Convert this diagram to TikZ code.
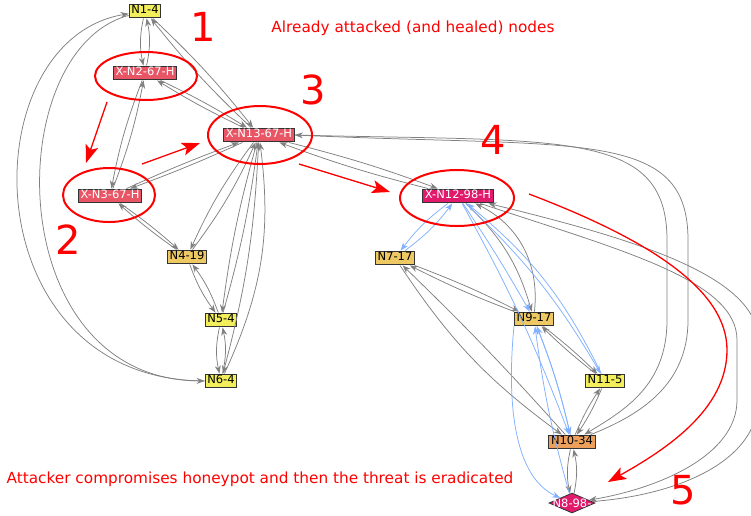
\documentclass[tikz,border=0pt]{standalone}
\usepackage{fontspec}
\setmainfont{DejaVu Sans}
\usepackage{tikz}
\usepackage{xcolor}
\usetikzlibrary{arrows.meta}
\usetikzlibrary{shapes.geometric}

\definecolor{edgegray}{RGB}{128,128,128}
\definecolor{edgeblue}{RGB}{128,176,255}
\definecolor{fillyellow}{RGB}{242,238,92}
\definecolor{fillgold}{RGB}{238,200,98}
\definecolor{fillorange}{RGB}{236,160,92}
\definecolor{fillhealed}{RGB}{232,86,102}
\definecolor{fillpot}{RGB}{226,26,108}
\definecolor{markred}{RGB}{255,0,0}

\tikzset{
  host/.style={rectangle,draw=black!80,line width=1pt,inner xsep=2.2pt,inner ysep=1.6pt,
    text height=8.3pt,text depth=2.4pt,font=\fontsize{11.5}{12}\selectfont},
  yhost/.style={host,fill=fillyellow},
  ghost/.style={host,fill=fillgold},
  ohost/.style={host,fill=fillorange},
  hhost/.style={host,fill=fillhealed,text=white},
  phost/.style={host,fill=fillpot,text=white},
  gedge/.style={draw=edgegray,line width=0.75pt,-{Stealth[length=8pt,width=6pt]}},
  bedge/.style={draw=edgeblue,line width=0.75pt,-{Stealth[length=8pt,width=6pt]}},
  ring/.style={draw=markred,line width=2pt},
  redarrow/.style={draw=markred,line width=1.3pt,-{Stealth[length=18pt,width=13pt,inset=4pt]}},
  bignum/.style={text=markred,font=\fontsize{40}{42}\selectfont},
  note/.style={text=markred,font=\fontsize{15.3}{17}\selectfont}
}

\begin{document}
\begin{tikzpicture}[x=1pt,y=-1pt]
            \useasboundingbox (0,0) rectangle (751,515);

            % hosts
            \node[yhost] (n1) at (145,11){N1-4};
            \node[hhost] (n2) at (145,73){X-N2-67-H};
            \node[hhost] (n13) at (259,135){X-N13-67-H};
            \node[hhost] (n3) at (110,196){X-N3-67-H};
            \node[ghost] (n4) at (187,257){N4-19};
            \node[yhost] (n5) at (221,320){N5-4};
            \node[yhost] (n6) at (221,381){N6-4};
            \node[phost] (n12) at (458,196){X-N12-98-H};
            \node[ghost] (n7) at (395,258){N7-17};
            \node[ghost] (n9) at (534,319){N9-17};
            \node[yhost] (n11) at (605,381){N11-5};
            \node[ohost] (n10) at (572,442){N10-34};
            \node[diamond,draw=black!80,line width=0.8pt,fill=fillpot,inner sep=0pt,
              minimum width=46pt,minimum height=20pt,
              label={[text=white,font=\fontsize{11.5}{12}\selectfont]center:N8-98-}] (n8) at (572,503){};

            % left cluster
            \draw[gedge] (n1) to[bend right=12] (n2);
            \draw[gedge] (n2) to[bend right=12] (n1);
            \draw[gedge] (n1) to[bend left=4] (n13);
            \draw[gedge] (n13) to[bend left=4] (n1);
            \draw[gedge] (n2) to[bend left=3] (n13);
            \draw[gedge] (n13) to[bend left=3] (n2);
            \draw[gedge] (n2) to[bend right=5] (n3);
            \draw[gedge] (n3) to[bend right=5] (n2);
            \draw[gedge] (n13) to[bend left=2] (n3);
            \draw[gedge] (n3) to[bend left=2] (n13);
            \draw[gedge] (n3) to[bend left=3] (n4);
            \draw[gedge] (n4) to[bend left=3] (n3);
            \draw[gedge] (n13) to[bend right=6] (n4);
            \draw[gedge] (n4) to[bend right=6] (n13);
            \draw[gedge] (n13) to[bend right=4] (n5);
            \draw[gedge] (n5) to[bend right=4] (n13);
            \draw[gedge] (n13) to[bend left=6] (n6);
            \draw[gedge] (n6) to[bend right=16] (n13);
            \draw[gedge] (n4) to[bend right=8] (n5);
            \draw[gedge] (n5) to[bend right=8] (n4);
            \draw[gedge] (n5) to[bend right=12] (n6);
            \draw[gedge] (n6) to[bend right=12] (n5);
            \draw[gedge] (n6) .. controls (-30,380) and (-30,40) .. (n1);
            \draw[gedge] (n1) .. controls (0,50) and (0,380) .. (n6);

            % right cluster
            \draw[gedge] (n13) to[bend left=3] (n12);
            \draw[gedge] (n12) to[bend left=3] (n13);
            \draw[gedge] (n13.east) .. controls (560,142) and (667,128) .. (667,240)
              -- (667,320) .. controls (667,385) and (625,410) .. (n10);
            \draw[gedge] (n10) .. controls (640,415) and (688,385) .. (688,320)
              -- (688,240) .. controls (688,128) and (580,148) .. (n13.east);
            \draw[gedge] (n12) .. controls (620,250) and (737,280) .. (737,340)
              -- (737,400) .. controls (737,455) and (660,488) .. (n8);
            \draw[gedge] (n8) .. controls (680,495) and (758,460) .. (758,400)
              -- (758,340) .. controls (758,275) and (630,238) .. (n12);
            \draw[gedge] (n12) to[bend left=15] (n9);
            \draw[gedge] (n9) to[bend right=35] (n12);
            \draw[gedge] (n7) to[bend left=3] (n9);
            \draw[gedge] (n9) to[bend left=3] (n7);
            \draw[gedge] (n7) to[bend right=10] (n10);
            \draw[gedge] (n10) to[bend right=2] (n7);
            \draw[gedge] (n9) to[bend left=3] (n11);
            \draw[gedge] (n11) to[bend left=3] (n9);
            \draw[gedge] (n11) to[bend left=5] (n10);
            \draw[gedge] (n10) to[bend left=5] (n11);
            \draw[gedge] (n10) to[bend right=12] (n8);
            \draw[gedge] (n8) to[bend right=12] (n10);

            % honeypot traffic
            \draw[bedge] (n12) to[bend right=8] (n7);
            \draw[bedge] (n7) to[bend right=8] (n12);
            \draw[bedge] (n12) to[bend left=2] (n9);
            \draw[bedge] (n12) to[bend left=4] (n10);
            \draw[bedge] (n12) to[bend left=8] (n11);
            \draw[bedge] (n11) to[bend right=12] (n12);
            \draw[bedge] (n10) to[bend right=4] (n9);
            \draw[bedge] (n9) to[bend left=4] (n10);
            \draw[bedge] (n8) to[bend left=4] (n9);
            \draw[bedge] (n9.south west) .. controls (505,420) and (520,480) .. (n8);

            % rings
            \draw[ring] (146,76) ellipse (51 and 24);
            \draw[ring] (260,135) ellipse (52 and 29);
            \draw[ring] (109,195) ellipse (46 and 27);
            \draw[ring] (457,198) ellipse (57 and 28);

            % red arrows
            \coordinate (m1a) at (107,102);
            \coordinate (m1b) at (86,163);
            \coordinate (m2a) at (142,164);
            \coordinate (m2b) at (200,143);
            \coordinate (m3a) at (299,164);
            \coordinate (m3b) at (390,192);
            \coordinate (m4a) at (529,194);
            \coordinate (m4b) at (608,482);
            \draw[redarrow] (m1a) -- (m1b);
            \draw[redarrow] (m2a) -- (m2b);
            \draw[redarrow] (m3a) -- (m3b);
            \draw[redarrow] (m4a) .. controls (650,240) and (727,290) .. (727,350)
              .. controls (727,410) and (665,450) .. (m4b);

            \node[bignum] (k1) at (203,27){1};
            \node[bignum] (k2) at (68,240){2};
            \node[bignum] (k3) at (313,90){3};
            \node[bignum] (k4) at (493,140){4};
            \node[bignum] (k5) at (683,490){5};
            \node[note] (t1) at (413,28){Already attacked (and healed) nodes};
            \node[note] (t2) at (260,479){Attacker compromises honeypot and then the threat is eradicated};
        \end{tikzpicture}
\end{document}
